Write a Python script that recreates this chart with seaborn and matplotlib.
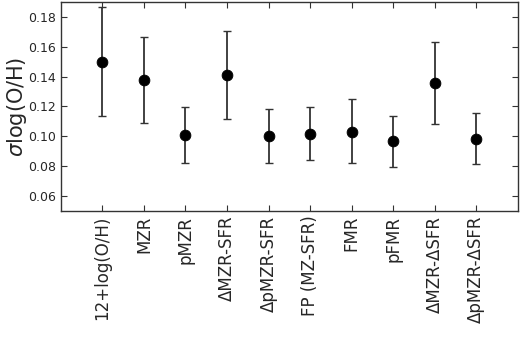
import numpy as np
import pandas as pd
import seaborn as sns
from matplotlib import pyplot as plt

# scatter of log(O/H) residuals for each relation
labels = [
    "12+log(O/H)",
    "MZR",
    "pMZR",
    "ΔMZR-SFR",
    "ΔpMZR-SFR",
    "FP (MZ-SFR)",
    "FMR",
    "pFMR",
    "ΔMZR-ΔSFR",
    "ΔpMZR-ΔSFR",
]
sigma = [0.150, 0.138, 0.101, 0.1413, 0.100, 0.1018, 0.1031, 0.0965, 0.1356, 0.0982]
err_low = [0.1138, 0.109, 0.082, 0.1116, 0.0822, 0.084, 0.082, 0.0796, 0.1081, 0.0811]
err_high = [0.1864, 0.1668, 0.1196, 0.1708, 0.118, 0.1193, 0.1248, 0.1134, 0.1631, 0.1156]

df = pd.DataFrame(
    {"x": np.arange(1, len(labels) + 1), "sigma": sigma, "lo": err_low, "hi": err_high}
)

sns.set_style("ticks")
plt.rcParams["font.family"] = ["DejaVu Sans"]

fig = plt.figure(figsize=(5.2, 3.39), dpi=100)
ax = fig.add_axes([0.117, 0.378, 0.879, 0.616])

ax.errorbar(
    df["x"],
    df["sigma"],
    yerr=[df["sigma"] - df["lo"], df["hi"] - df["sigma"]],
    fmt="none",
    ecolor="#333333",
    elinewidth=1.3,
    capsize=3.2,
    capthick=1,
    zorder=2,
)
sns.scatterplot(data=df, x="x", y="sigma", color="black", s=60, edgecolor="black", ax=ax, zorder=3)

ax.set_xlim(0, 11)
ax.set_ylim(0.05, 0.19)
ax.set_xticks(df["x"])
ax.set_xticklabels(labels, rotation=90, fontsize=12)
ax.set_yticks([0.06, 0.08, 0.10, 0.12, 0.14, 0.16, 0.18])
ax.set_yticklabels(["0.06", "0.08", "0.10", "0.12", "0.14", "0.16", "0.18"], fontsize=9)
ax.set_xlabel("")
ax.set_ylabel(r"$\sigma$log(O/H)", fontsize=15)
ax.yaxis.set_label_coords(-0.07, 0.5)
ax.tick_params(direction="in", top=True, right=True, length=4, width=0.8, color="#333333")
for sp in ax.spines.values():
    sp.set_color("#333333")
    sp.set_linewidth(1)

fig.savefig("out.png", dpi=100)
